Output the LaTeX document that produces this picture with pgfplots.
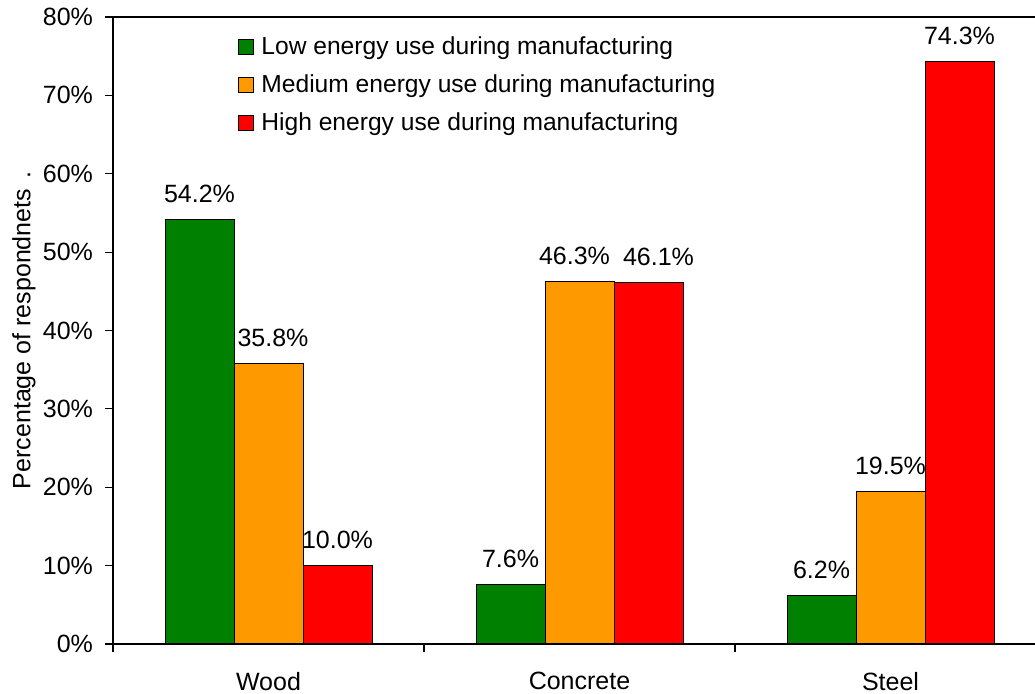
\documentclass[border=0pt]{standalone}
\usepackage{fontspec}
\setmainfont{Liberation Sans}
\usepackage{pgfplots}
\pgfplotsset{compat=1.18}
\definecolor{cgreen}{RGB}{0,128,0}
\definecolor{corange}{RGB}{255,153,0}
\definecolor{cred}{RGB}{255,0,0}
\pgfplotstableread{
x y dx
0 54.2 0
1 7.6 0
2 6.2 0
}\lowtab
\pgfplotstableread{
x y dx
0 35.8 2.25
1 46.3 -2.5
2 19.5 0
}\medtab
\pgfplotstableread{
x y dx
0 10.0 0
1 46.1 5
2 74.3 0
}\hightab
\begin{document}
\begin{tikzpicture}
\begin{axis}[
  name=ax,
  scale only axis,
  width=466.5pt, height=313.5pt,
  xmin=-0.5, xmax=2.5, ymin=0, ymax=80,
  axis line style={line width=0.8pt},
  font=\fontsize{12.5}{15}\selectfont,
  /pgf/number format/assume math mode=true,
  ybar,
  bar width=34.5pt,
  xtick={0,1,2},
  xticklabels={Wood,Concrete,Steel},
  minor xtick={-0.5,0.5,1.5,2.5},
  major x tick style={draw=none},
  ytick={0,10,20,30,40,50,60,70,80},
  yticklabels={0\%,10\%,20\%,30\%,40\%,50\%,60\%,70\%,80\%},
  tick align=outside,
  xtick pos=bottom, ytick pos=left,
  major tick length=4pt, minor tick length=4pt,
  tick style={line width=0.6pt, black},
  xticklabel style={yshift=-6.5pt},
  yticklabel style={xshift=-2.5pt},
  ylabel={Percentage of respondnets\hspace{5pt}.},
  y label style={at={(axis description cs:-0.0956,0.5)}, anchor=center},
  visualization depends on={\thisrow{dx} \as \dx},
  nodes near coords={\pgfmathprintnumber[fixed,fixed zerofill,precision=1]{\pgfplotspointmeta}\%},
  every node near coord/.append style={anchor=south, inner sep=0pt, yshift=8pt, xshift=\dx pt, font=\fontsize{12.5}{15}\selectfont, black},
  legend style={draw=none, fill=none, at={(axis description cs:0.134,0.98)}, anchor=north west,
    font=\fontsize{12.3}{14.8}\selectfont, row sep=1.5pt, inner sep=0pt,
    nodes={inner sep=3.5pt}},
  legend cell align=left,
  legend image code/.code={\draw[#1,draw=black,line width=0.5pt] (0pt,-3.75pt) rectangle (7.5pt,3.75pt);},
]
\addplot[fill=cgreen, draw=black, line width=0.5pt, bar shift=-34.5pt] table[x=x,y=y] {\lowtab};
\addplot[fill=corange, draw=black, line width=0.5pt, bar shift=0pt] table[x=x,y=y] {\medtab};
\addplot[fill=cred, draw=black, line width=0.5pt, bar shift=34.5pt] table[x=x,y=y] {\hightab};
\legend{Low energy use during manufacturing, Medium energy use during manufacturing, High energy use during manufacturing}
\end{axis}
\pgfresetboundingbox
\path[use as bounding box] ([xshift=-56.5pt,yshift=-25pt]ax.south west) rectangle ([xshift=-5.5pt,yshift=8.5pt]ax.north east);
\end{tikzpicture}
\end{document}
